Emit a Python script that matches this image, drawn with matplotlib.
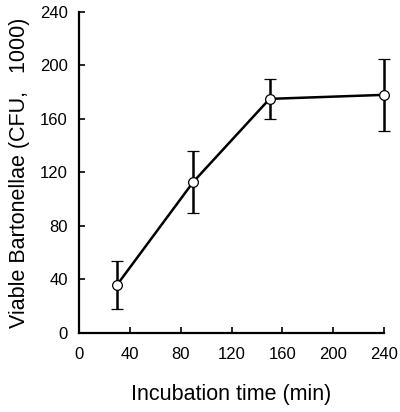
import matplotlib.pyplot as plt

plt.rcParams['font.family'] = ['Liberation Sans', 'DejaVu Sans']

time_min = [30, 90, 150, 240]
cfu = [36, 113, 175, 178]
err = [18, 23, 15, 27]

fig = plt.figure(figsize=(4, 4.12), dpi=100)
ax = fig.add_axes([0.1975, 0.192, 0.7625, 0.779])

ax.errorbar(time_min, cfu, yerr=err, color='black', lw=1.8, elinewidth=1.8,
            capsize=4, capthick=1.8, marker='o', markersize=7,
            markerfacecolor='white', markeredgecolor='black', markeredgewidth=0.9,
            clip_on=False, zorder=3)

ax.set_xlim(0, 240)
ax.set_ylim(0, 240)
ax.set_xticks([0, 40, 80, 120, 160, 200, 240])
ax.set_yticks([0, 40, 80, 120, 160, 200, 240])
ax.tick_params(direction='in', length=4, width=1.2, labelsize=12, pad=10)
ax.tick_params(axis='y', pad=8)

for s in ['top', 'right']:
    ax.spines[s].set_visible(False)
for s in ['left', 'bottom']:
    ax.spines[s].set_linewidth(1.6)

ax.set_xlabel('Incubation time (min)', fontsize=15.5, labelpad=16)
ax.set_ylabel('Viable Bartonellae (CFU,   1000)', fontsize=15.5, labelpad=7)

fig.savefig('out.png', dpi=100)
